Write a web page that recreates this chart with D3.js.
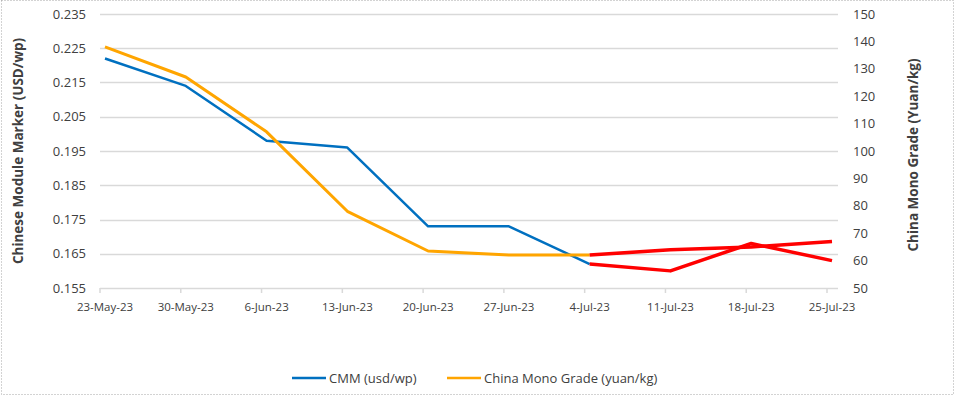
<!DOCTYPE html>
<html>
<head>
<meta charset="utf-8">
<script src="https://cdn.jsdelivr.net/npm/d3@7"></script>
<style>
  body { margin: 0; background: #fff; }
  text { font-family: "Open Sans", "Noto Sans", sans-serif; fill: #404040; }
</style>
</head>
<body>
<svg id="chart" width="956" height="396"></svg>
<script>
const dates = ['23-May-23', '30-May-23', '6-Jun-23', '13-Jun-23', '20-Jun-23',
  '27-Jun-23', '4-Jul-23', '11-Jul-23', '18-Jul-23', '25-Jul-23'];
const cmm = [0.222, 0.214, 0.198, 0.196, 0.173, 0.173, 0.162, 0.160, 0.168, 0.163];
const mono = [138, 127, 107, 78, 63.5, 62, 62, 64, 65, 67];
const leftTicks = [0.155, 0.165, 0.175, 0.185, 0.195, 0.205, 0.215, 0.225, 0.235];
const rightTicks = [50, 60, 70, 80, 90, 100, 110, 120, 130, 140, 150];
// from this week on both lines are drawn red
const redFrom = '4-Jul-23';

const svg = d3.select('#chart');
const plotTop = 14, plotBottom = 288, gridLeft = 100, gridRight = 838;

const x = d3.scalePoint().domain(dates).range([105, 832]);
const yL = d3.scaleLinear().domain([0.155, 0.235]).range([plotBottom, plotTop]);
const yR = d3.scaleLinear().domain([50, 150]).range([plotBottom, plotTop]);

// outer dotted frame
svg.append('rect')
  .attr('x', 1.5).attr('y', 0.5).attr('width', 952).attr('height', 394)
  .attr('fill', 'none').attr('stroke', '#a6a6a6').attr('stroke-dasharray', '1,2');

// grid
svg.append('g').selectAll('line').data(leftTicks).join('line')
  .attr('x1', gridLeft).attr('x2', gridRight)
  .attr('y1', (d) => Math.round(yL(d)) + 0.5).attr('y2', (d) => Math.round(yL(d)) + 0.5)
  .attr('stroke', '#d9d9d9').attr('stroke-width', 1.5);

// left axis ticks
svg.append('g').selectAll('text').data(leftTicks).join('text')
  .attr('x', 86).attr('y', (d) => yL(d)).attr('dy', '0.35em')
  .attr('text-anchor', 'end').attr('font-size', 13)
  .text((d) => d3.format('.3f')(d));

// right axis ticks
svg.append('g').selectAll('text').data(rightTicks).join('text')
  .attr('x', 853).attr('y', (d) => yR(d)).attr('dy', '0.35em')
  .attr('font-size', 13)
  .text((d) => d);

// x axis
const xAxis = svg.append('g');
xAxis.selectAll('line').data(dates).join('line')
  .attr('x1', (d) => x(d) - 5).attr('x2', (d) => x(d) - 5)
  .attr('y1', plotBottom).attr('y2', plotBottom + 5)
  .attr('stroke', '#d9d9d9').attr('stroke-width', 1.5);
xAxis.selectAll('text').data(dates).join('text')
  .attr('x', (d) => x(d)).attr('y', 307).attr('dy', '0.35em')
  .attr('text-anchor', 'middle').attr('font-size', 11.5)
  .text((d) => d);

// axis titles
svg.append('text')
  .attr('transform', 'translate(18,151) rotate(-90)')
  .attr('text-anchor', 'middle').attr('dy', '0.35em')
  .attr('font-size', 13.5).attr('font-weight', 'bold')
  .text('Chinese Module Marker (USD/wp)');
svg.append('text')
  .attr('transform', 'translate(913,155) rotate(-90)')
  .attr('text-anchor', 'middle').attr('dy', '0.35em')
  .attr('font-size', 13.5).attr('font-weight', 'bold')
  .text('China Mono Grade (Yuan/kg)');

// lines
const split = dates.indexOf(redFrom);
const pts = (vals, scale) => vals.map((v, i) => [x(dates[i]), scale(v)]);
const line = d3.line();

function drawSeries(vals, scale, colour, width) {
  const p = pts(vals, scale);
  svg.append('path').attr('d', line(p.slice(0, split + 1)))
    .attr('fill', 'none').attr('stroke', colour).attr('stroke-width', width)
    .attr('stroke-linejoin', 'round');
  svg.append('path').attr('d', line(p.slice(split)))
    .attr('fill', 'none').attr('stroke', '#ff0000').attr('stroke-width', 3.5)
    .attr('stroke-linejoin', 'round');
}
drawSeries(cmm, yL, '#0070c0', 2.5);
drawSeries(mono, yR, '#ffa500', 3);

// legend
const legend = [
  { name: 'CMM (usd/wp)', colour: '#0070c0', x: 292 },
  { name: 'China Mono Grade (yuan/kg)', colour: '#ffa500', x: 447 },
];
const lg = svg.append('g').selectAll('g').data(legend).join('g');
lg.append('line')
  .attr('x1', (d) => d.x).attr('x2', (d) => d.x + 34)
  .attr('y1', 378).attr('y2', 378)
  .attr('stroke', (d) => d.colour).attr('stroke-width', 2.5);
lg.append('text')
  .attr('x', (d) => d.x + 37).attr('y', 378).attr('dy', '0.35em')
  .attr('font-size', 13)
  .text((d) => d.name);
</script>
</body>
</html>
